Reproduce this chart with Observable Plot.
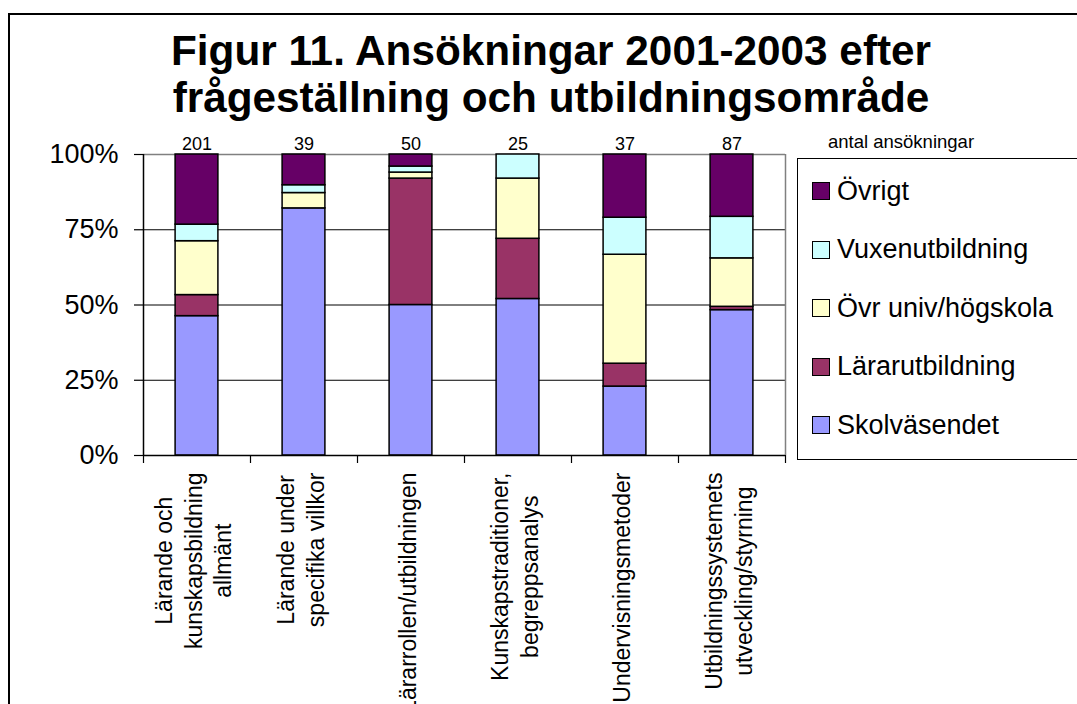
<!DOCTYPE html>
<html>
<head>
<meta charset="utf-8">
<script src="https://cdn.jsdelivr.net/npm/d3@7"></script>
<script src="https://cdn.jsdelivr.net/npm/@observablehq/plot@0.6"></script>
<style>
html, body { margin: 0; padding: 0; overflow: hidden; background: #fff; width: 1077px; height: 704px; }
body { font-family: "Liberation Sans", Arial, sans-serif; position: relative; color: #000; }
#frame { position: absolute; left: 8px; top: 13px; width: 1100px; height: 720px; border-left: 2px solid #000; border-top: 2px solid #000; box-sizing: border-box; }
#title { position: absolute; left: 151px; width: 800px; top: 27px; text-align: center; font-weight: bold; font-size: 42.3px; line-height: 47px; white-space: nowrap; }
#chart { position: absolute; left: 0; top: 120px; }
#countlabel { position: absolute; left: 828px; top: 131px; font-size: 18.5px; white-space: nowrap; }
#legend { position: absolute; left: 797px; top: 158px; width: 300px; height: 302px; border: 1.5px solid #000; box-sizing: border-box; background: #fff; }
.item { position: absolute; left: 14px; display: flex; align-items: center; font-size: 27px; height: 30px; white-space: nowrap; }
.sw { width: 18px; height: 18px; border: 1.5px solid #000; box-sizing: border-box; margin-right: 7px; }
</style>
</head>
<body>
<div id="frame"></div>
<div id="title">Figur 11. Ansökningar 2001-2003 efter<br>frågeställning och utbildningsområde</div>
<div id="chart"></div>
<div id="countlabel">antal ansökningar</div>
<div id="legend"></div>
<script>
// ---- data ----
const categories = [
  "Lärande och\nkunskapsbildning\nallmänt",
  "Lärande under\nspecifika villkor",
  "Lärarrollen/utbildningen",
  "Kunskapstraditioner,\nbegreppsanalys",
  "Undervisningsmetoder",
  "Utbildningssystemets\nutveckling/styrning"
];
const counts = [201, 39, 50, 25, 37, 87];
const seriesNames = ["Skolväsendet", "Lärarutbildning", "Övr univ/högskola", "Vuxenutbildning", "Övrigt"];
const skolvasendet    = [46.3, 82.1, 50, 52, 22.9, 48.3];
const lararutbildning = [7.0, 0, 42, 20, 7.6, 1.1];
const ovrUnivHogskola = [17.9, 5.1, 2, 20, 36.2, 16.1];
const vuxenutbildning = [5.5, 2.6, 2, 8, 12.3, 13.8];
const ovrigt          = [23.3, 10.2, 4, 0, 21.0, 20.7];
const seriesColors = ["#9999FF", "#993366", "#FFFFCC", "#CCFFFF", "#660066"];
const yTicks = [0, 25, 50, 75, 100];
const legendOrder = ["Övrigt", "Vuxenutbildning", "Övr univ/högskola", "Lärarutbildning", "Skolväsendet"];

// ---- build stacked rows ----
const seriesValues = [skolvasendet, lararutbildning, ovrUnivHogskola, vuxenutbildning, ovrigt];
const rows = [];
categories.forEach((c, i) => {
  let acc = 0;
  seriesValues.forEach((vals, s) => {
    const v = vals[i];
    if (v > 0) rows.push({i, series: seriesNames[s], y1: acc, y2: acc + v});
    acc += v;
  });
});
const barFrac = 0.4;
const gap = (1 - barFrac) / 2;

const chart = Plot.plot({
  width: 1077,
  height: 584,
  marginLeft: 143,
  marginRight: 292,
  marginTop: 34,
  marginBottom: 249,
  x: {type: "linear", domain: [0, categories.length], axis: null},
  y: {domain: [0, 100], axis: null},
  color: {domain: seriesNames, range: seriesColors},
  style: {fontFamily: '"Liberation Sans", Arial, sans-serif', color: "#000", background: "transparent", overflow: "visible", maxWidth: "none"},
  marks: [
    Plot.ruleY([25, 50, 75], {stroke: "#000", strokeWidth: 1}),
    Plot.ruleY([100], {stroke: "#808080", strokeWidth: 1.5}),
    Plot.ruleX([categories.length], {stroke: "#808080", strokeWidth: 1.5}),
    Plot.rect(rows, {x1: d => d.i + gap, x2: d => d.i + 1 - gap, y1: "y1", y2: "y2", fill: "series", stroke: "#000", strokeWidth: 1.5}),
    Plot.ruleX([0], {stroke: "#000", strokeWidth: 1.5}),
    Plot.ruleY([0], {stroke: "#000", strokeWidth: 1.5}),
    Plot.axisY(yTicks, {tickSize: 9, tickPadding: 16, tickFormat: d => d + "%", fontSize: 27, label: null, strokeWidth: 1.2}),
    Plot.axisX(d3.range(categories.length + 1), {tickSize: 8, tickFormat: () => "", label: null, strokeWidth: 1.2}),
    Plot.text(counts, {x: (d, i) => i + 0.5, y: 100, text: d => String(d), dy: -5, lineAnchor: "bottom", fontSize: 18}),
    Plot.text(categories, {x: (d, i) => i + 0.5, y: 0, text: d => d, rotate: -90, textAnchor: "end", lineAnchor: "middle", dx: -5, dy: 17, fontSize: 23, lineHeight: 1.3})
  ]
});
document.getElementById("chart").append(chart);

// center multi-line rotated labels relative to each other (longest line starts next to the axis)
chart.querySelectorAll("text").forEach(t => {
  const tr = t.getAttribute("transform") || "";
  if (!tr.includes("rotate")) return;
  const spans = t.querySelectorAll("tspan");
  if (spans.length < 2) return;
  const max = Math.max(...Array.from(spans, s => s.getComputedTextLength()));
  t.setAttribute("text-anchor", "middle");
  t.style.textAnchor = "middle";
  spans.forEach(s => { s.setAttribute("x", -max / 2); s.setAttribute("text-anchor", "middle"); });
});

// ---- legend ----
const legend = document.getElementById("legend");
legendOrder.forEach((name, k) => {
  const item = document.createElement("div");
  item.className = "item";
  item.style.top = (17 + k * 58.6) + "px";
  const sw = document.createElement("div");
  sw.className = "sw";
  sw.style.background = seriesColors[seriesNames.indexOf(name)];
  const lab = document.createElement("span");
  lab.textContent = name;
  item.append(sw, lab);
  legend.append(item);
});
</script>
</body>
</html>
